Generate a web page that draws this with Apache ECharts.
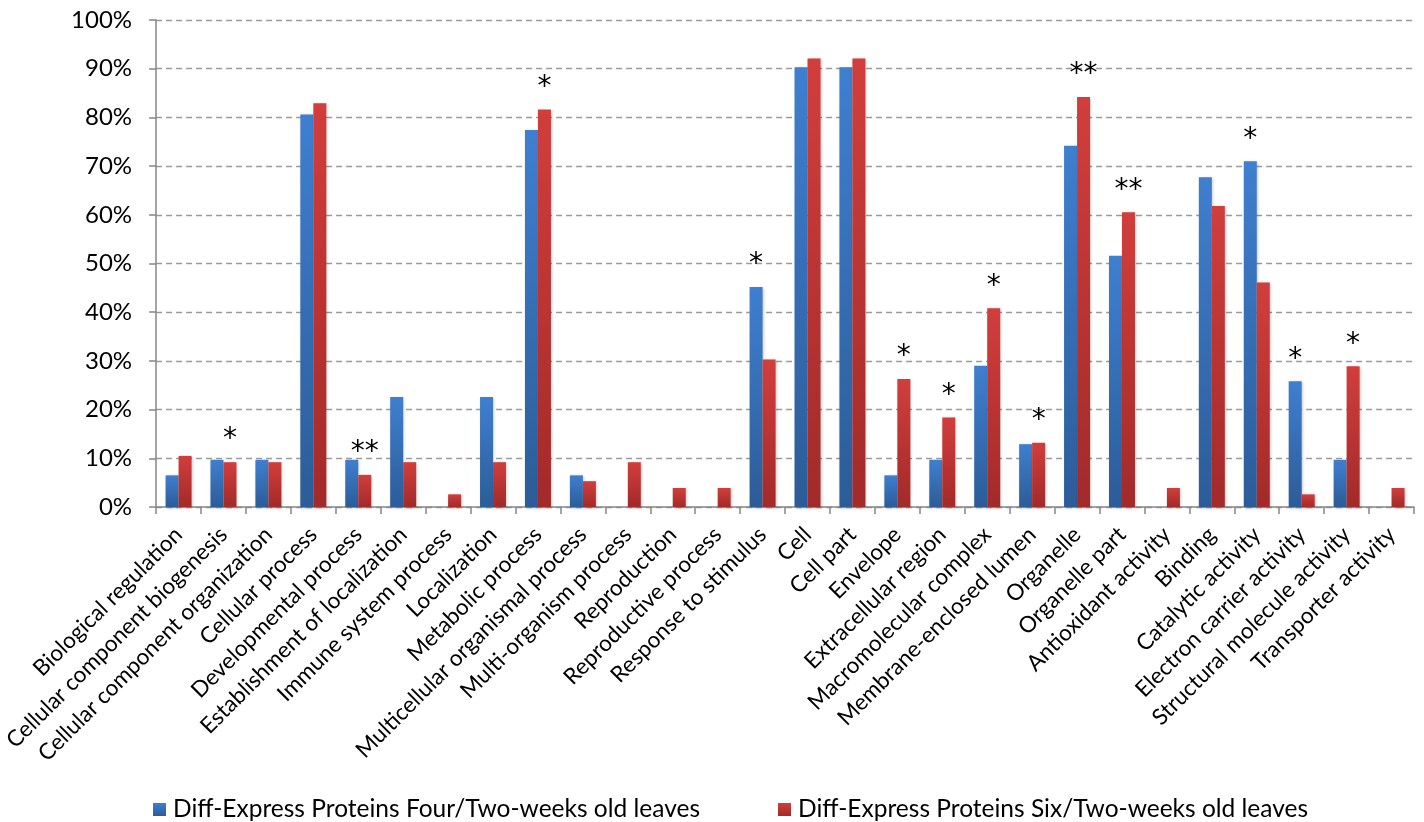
<!DOCTYPE html>
<html>
<head>
<meta charset="utf-8">
<script src="https://cdn.jsdelivr.net/npm/echarts@6/dist/echarts.min.js"></script>
<style>
html,body{margin:0;padding:0;background:#fff;}
#chart{width:1424px;height:822px;}
</style>
</head>
<body>
<div id="chart"></div>
<script>
const categories = [
  'Biological regulation','Cellular component biogenesis','Cellular component organization','Cellular process',
  'Developmental process','Establishment of localization','Immune system process','Localization',
  'Metabolic process','Multicellular organismal process','Multi-organism process','Reproduction',
  'Reproductive process','Response to stimulus','Cell','Cell part','Envelope','Extracellular region',
  'Macromolecular complex','Membrane-enclosed lumen','Organelle','Organelle part','Antioxidant activity',
  'Binding','Catalytic activity','Electron carrier activity','Structural molecule activity','Transporter activity'
];
const fourWeeks = [6.5, 9.7, 9.7, 80.6, 9.7, 22.6, 0, 22.6, 77.4, 6.5, 0, 0, 0, 45.2, 90.3, 90.3, 6.5, 9.7, 29.0, 12.9, 74.2, 51.6, 0, 67.7, 71.0, 25.8, 9.7, 0];
const sixWeeks = [10.5, 9.2, 9.2, 82.9, 6.6, 9.2, 2.6, 9.2, 81.6, 5.3, 9.2, 3.9, 3.9, 30.3, 92.1, 92.1, 26.3, 18.4, 40.8, 13.2, 84.2, 60.5, 3.9, 61.8, 46.1, 2.6, 28.9, 3.9];
const sigFour = ['','','','','','','','','','','','','','*','','','','','','','','','','','*','*','',''];
const sigSix = ['','*','','','**','','','','*','','','','','','','','*','*','*','*','**','**','','','','','*',''];
const yTicks = [0,10,20,30,40,50,60,70,80,90,100];
const seriesNames = ['Diff-Express Proteins Four/Two-weeks old leaves','Diff-Express Proteins Six/Two-weeks old leaves'];

const FONT = 'Lato, "Open Sans", sans-serif';
const chart = echarts.init(document.getElementById('chart'), null, {renderer:'canvas'});

function grad(top, bottom){
  return new echarts.graphic.LinearGradient(0,0,0,1,[{offset:0,color:top},{offset:1,color:bottom}]);
}
function sigLabel(arr){
  return {
    show:true, position:'top', distance:8,
    fontSize:28, color:'#000', fontFamily:'"DejaVu Sans", sans-serif',
    formatter: p => arr[p.dataIndex]
  };
}

const option = {
  backgroundColor:'#fff',
  animation:false,
  grid:{left:156,right:10,top:20,bottom:315,containLabel:false},
  legend:{
    top:792, left:148, icon:'rect', itemWidth:13, itemHeight:13, itemGap:78,
    textStyle:{fontSize:24.5, color:'#000', fontFamily:FONT, padding:[0,0,0,2]},
    data:seriesNames
  },
  xAxis:{
    type:'category', data:categories,
    axisLine:{show:true,lineStyle:{color:'#868686',width:1.5}},
    axisTick:{show:true,length:7,lineStyle:{color:'#868686',width:1.5}},
    axisLabel:{rotate:45, interval:0, fontSize:22.5, color:'#000', fontFamily:FONT, margin:24}
  },
  yAxis:{
    type:'value', min:yTicks[0], max:yTicks[yTicks.length-1], interval:yTicks[1]-yTicks[0],
    axisLine:{show:true,lineStyle:{color:'#868686',width:1.5}},
    axisTick:{show:true,length:7,lineStyle:{color:'#868686',width:1.5}},
    axisLabel:{formatter:'{value}%', fontSize:24, color:'#000', fontFamily:FONT, margin:24},
    splitLine:{show:true,lineStyle:{color:'#9a9a9a',type:[6,4],width:1.3}}
  },
  series:[
    {
      name:seriesNames[0], type:'bar', data:fourWeeks, barWidth:13, barGap:'0%',
      itemStyle:{color:grad('#3f7fd0','#2c5c98'), shadowBlur:3, shadowColor:'rgba(0,0,0,0.25)', shadowOffsetX:1, shadowOffsetY:1},
      label:sigLabel(sigFour)
    },
    {
      name:seriesNames[1], type:'bar', data:sixWeeks, barWidth:13, barGap:'0%',
      itemStyle:{color:grad('#d13e3c','#a22a29'), shadowBlur:3, shadowColor:'rgba(0,0,0,0.25)', shadowOffsetX:1, shadowOffsetY:1},
      label:sigLabel(sigSix)
    }
  ]
};
chart.setOption(option);
</script>
</body>
</html>
